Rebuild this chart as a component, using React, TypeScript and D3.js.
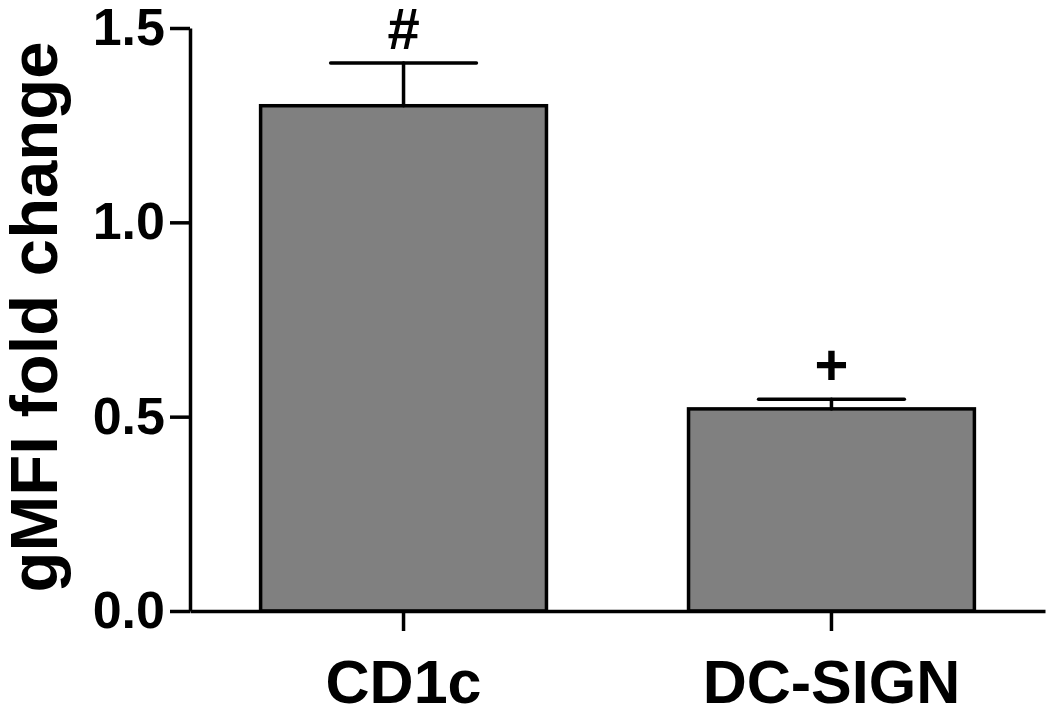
import React, { useEffect, useRef } from 'react'
import * as d3 from 'd3'

// values
const categories = ['CD1c', 'DC-SIGN']
const means = [1.30, 0.52]
const sems = [0.11, 0.025]
const marks = ['#', '+']
const yTicks = [0, 0.5, 1.0, 1.5]
const yTitle = 'gMFI fold change'

const W = 1050
const H = 710
const FONT = '"Liberation Sans", Arial, Helvetica, sans-serif'

export default function App() {
    const ref = useRef<SVGSVGElement>(null)

    useEffect(() => {
        const svg = d3.select(ref.current)
        svg.selectAll('*').remove()

        const x = d3.scaleBand<string>()
            .domain(categories)
            .range([190, 1045])
            .paddingInner(0.332)
            .paddingOuter(0.165)

        const y = d3.scaleLinear()
            .domain([0, 1.5])
            .range([611, 28])

        const data = categories.map((c, i) => ({ c, m: means[i], e: sems[i], mark: marks[i] }))

        // bars
        svg.append('g')
            .selectAll('rect')
            .data(data)
            .enter()
            .append('rect')
            .attr('x', d => x(d.c)!)
            .attr('y', d => y(d.m))
            .attr('width', x.bandwidth())
            .attr('height', d => y(0) - y(d.m))
            .attr('fill', '#808080')
            .attr('stroke', '#000')
            .attr('stroke-width', 3.5)

        // error bars (upper only)
        const cap = x.bandwidth() * 0.255
        const eb = svg.append('g')
            .attr('stroke', '#000')
            .attr('stroke-width', 3.5)
            .attr('stroke-linecap', 'round')
        eb.selectAll('line.v')
            .data(data)
            .enter()
            .append('line')
            .attr('class', 'v')
            .attr('x1', d => x(d.c)! + x.bandwidth() / 2)
            .attr('x2', d => x(d.c)! + x.bandwidth() / 2)
            .attr('y1', d => y(d.m))
            .attr('y2', d => y(d.m + d.e))
        eb.selectAll('line.h')
            .data(data)
            .enter()
            .append('line')
            .attr('class', 'h')
            .attr('x1', d => x(d.c)! + x.bandwidth() / 2 - cap)
            .attr('x2', d => x(d.c)! + x.bandwidth() / 2 + cap)
            .attr('y1', d => y(d.m + d.e))
            .attr('y2', d => y(d.m + d.e))

        // significance marks
        svg.append('g')
            .selectAll('text')
            .data(data)
            .enter()
            .append('text')
            .attr('x', d => x(d.c)! + x.bandwidth() / 2)
            .attr('y', d => y(d.m + d.e) - 14)
            .attr('text-anchor', 'middle')
            .attr('font-family', FONT)
            .attr('font-weight', 'bold')
            .attr('font-size', 58)
            .text(d => d.mark)

        // axes
        const yAxis = d3.axisLeft(y)
            .tickValues(yTicks)
            .tickFormat(d3.format('.1f'))
            .tickSize(20)
            .tickSizeOuter(0)
            .tickPadding(5)
        const gy = svg.append('g')
            .attr('transform', 'translate(190,0)')
            .call(yAxis)
        gy.selectAll('text')
            .attr('font-size', 52)

        const xAxis = d3.axisBottom(x)
            .tickSize(20)
            .tickSizeOuter(0)
            .tickPadding(29)
        const gx = svg.append('g')
            .attr('transform', 'translate(0,611)')
            .call(xAxis)
        gx.selectAll('text')
            .attr('font-size', 61)

        svg.selectAll('.domain, .tick line')
            .attr('stroke', '#000')
            .attr('stroke-width', 3.5)
        svg.selectAll('.tick text')
            .attr('fill', '#000')
            .attr('font-family', FONT)
            .attr('font-weight', 'bold')

        // y title
        svg.append('text')
            .attr('transform', 'translate(57,317) rotate(-90)')
            .attr('text-anchor', 'middle')
            .attr('font-family', FONT)
            .attr('font-weight', 'bold')
            .attr('font-size', 67)
            .text(yTitle)
    }, [])

    return (
        <svg ref={ref} width={W} height={H}
            style={{ position: 'absolute', left: 0, top: 0, background: '#fff' }} />
    )
}
